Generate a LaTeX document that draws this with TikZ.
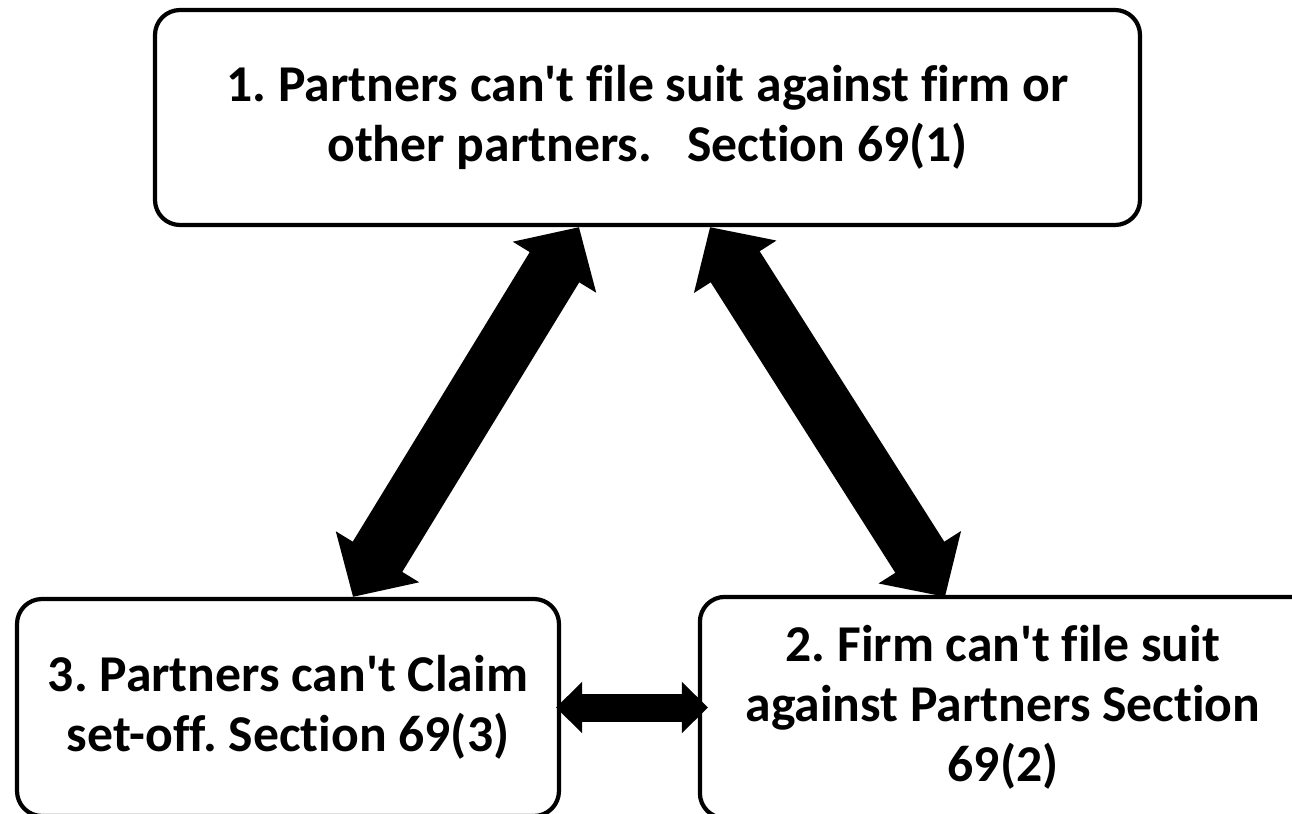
\documentclass[tikz,border=0pt]{standalone}
\usepackage{fontspec}
\setmainfont{Carlito}[Ligatures={NoCommon}]
\usetikzlibrary{arrows.meta}

\tikzset{
    boxline/.style = {draw, line width=1.2pt, rounded corners=0.25cm},
    rulebox/.style = {boxline, align=center, font=\bfseries\fontsize{14.7}{17.1}\selectfont, inner sep=0pt},
    bigarrow/.style = {line width=5.8mm, {Triangle[length=4.7mm, width=9.5mm]}-{Triangle[length=4.7mm, width=9.5mm]}},
    smallarrow/.style = {line width=2.8mm, {Triangle[length=2.6mm, width=5mm]}-{Triangle[length=2.6mm, width=5mm]}}
}

\begin{document}
\frenchspacing
\begin{tikzpicture}
    \useasboundingbox (0,0) rectangle (12.92,8.13);
    % the three boxes
    \node[rulebox, minimum width=9.85cm, minimum height=2.15cm] (sec1) at (6.475,6.955)
        {1. Partners can\textquotesingle t file suit against firm or\\other partners.\ \ \ Section 69(1)};
    \node[rulebox, minimum width=5.42cm, minimum height=2.17cm] (sec3) at (2.88,1.055)
        {3. Partners can\textquotesingle t Claim\\set-off. Section 69(3)};
    \node[rulebox, draw=none, minimum width=6.02cm, minimum height=2.17cm] (sec2) at (10.03,1.055)
        {2. Firm can\textquotesingle t file suit\\against Partners Section\\69(2)};
    \draw[boxline] (sec2.south west) rectangle ([xshift=1cm]sec2.north east);
    % the arrows between them
    \draw[bigarrow] ([xshift=-0.685cm]sec1.south) -- ([xshift=0.65cm]sec3.north);
    \draw[bigarrow] ([xshift=0.625cm]sec1.south) -- ([xshift=-0.58cm]sec2.north);
    \draw[smallarrow] ([xshift=-0.05cm]sec3.east) -- ([xshift=0.08cm]sec2.west);
\end{tikzpicture}
\end{document}
